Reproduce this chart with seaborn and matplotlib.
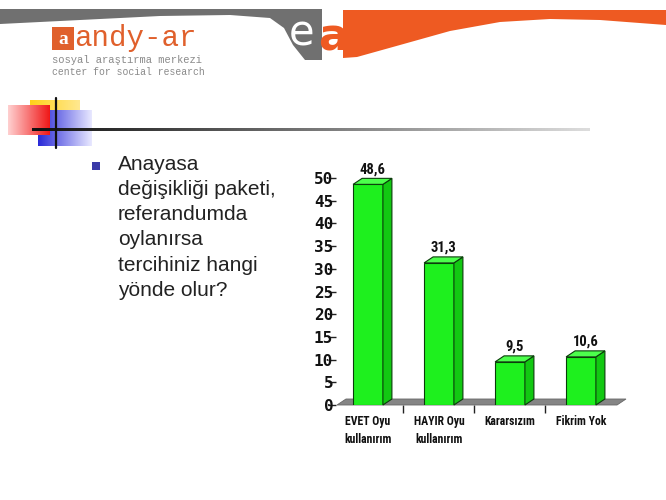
import numpy as np
import pandas as pd
import matplotlib
matplotlib.use("Agg")
import matplotlib.pyplot as plt
import seaborn as sns
from matplotlib.patches import Polygon, Rectangle
from matplotlib import font_manager

# ---------------- data ----------------
categories = ["EVET Oyu\nkullanırım", "HAYIR Oyu\nkullanırım", "Kararsızım", "Fikrim Yok"]
values = [48.6, 31.3, 9.5, 10.6]
value_labels = ["48,6", "31,3", "9,5", "10,6"]
y_ticks = [0, 5, 10, 15, 20, 25, 30, 35, 40, 45, 50]
question = "Anayasa\ndeğişikliği paketi,\nreferandumda\noylanırsa\ntercihiniz hangi\nyönde olur?"
logo_name = "andy-ar"
logo_sub1 = "sosyal araştırma merkezi"
logo_sub2 = "center for social research"

sns.set_theme(style="white")
plt.rcParams['font.family'] = ['Liberation Sans', 'DejaVu Sans']

avail = {f.name for f in font_manager.fontManager.ttflist}
narrow = next((f for f in ['Liberation Sans Narrow', 'Roboto Condensed', 'DejaVu Sans Condensed',
                           'Open Sans Condensed', 'Liberation Sans'] if f in avail), 'DejaVu Sans')

W, H = 666, 500
fig = plt.figure(figsize=(6.66, 5.0), dpi=100)
fig.patch.set_facecolor('white')

# background drawing axes in pixel coordinates
bg = fig.add_axes([0, 0, 1, 1])
bg.set_xlim(0, W)
bg.set_ylim(H, 0)
bg.axis('off')

def grad_rect(ax, x0, x1, y0, y1, c_from, c_to, horizontal=True, z=1):
    n = 64
    t = np.linspace(0, 1, n)
    cf = np.array(matplotlib.colors.to_rgba(c_from))
    ct = np.array(matplotlib.colors.to_rgba(c_to))
    cols = cf[None, :] * (1 - t[:, None]) + ct[None, :] * t[:, None]
    img = cols[None, :, :] if horizontal else cols[:, None, :]
    ax.imshow(img, extent=(x0, x1, y1, y0), aspect='auto', zorder=z, interpolation='bilinear')

# header grey band
grey_pts = [(0, 9), (322, 9), (322, 60), (305, 60), (293, 45), (284, 28), (270, 18),
            (230, 15), (160, 16), (80, 20), (0, 24)]
bg.add_patch(Polygon(grey_pts, closed=True, facecolor='#707070', edgecolor='none', zorder=2))
# orange band
orange_pts = [(343, 10), (666, 10), (666, 25), (600, 20), (550, 19), (500, 22), (450, 31),
              (400, 45), (357, 57), (343, 58)]
bg.add_patch(Polygon(orange_pts, closed=True, facecolor='#ee5a22', edgecolor='none', zorder=3))
bg.text(302, 34, "e", color='white', fontsize=30, ha='center', va='center',
        family=['DejaVu Sans'], zorder=4)
bg.text(333, 38, "a", color='#ee5a22', fontsize=32, fontweight='bold', ha='center', va='center',
        family=['DejaVu Sans'], zorder=4)

# logo
bg.add_patch(Rectangle((52, 27), 22, 23, facecolor='#e0602c', edgecolor='none', zorder=3))
bg.text(63, 39, "a", color='white', fontsize=14, fontweight='bold', ha='center', va='center',
        family=['Liberation Serif', 'DejaVu Serif'], zorder=4)
bg.text(74, 46, logo_name, color='#e0602c', fontsize=21, ha='left', va='baseline',
        family=['Liberation Mono', 'DejaVu Sans Mono'], zorder=4)
bg.text(52, 63, logo_sub1, color='#8a8a8a', fontsize=7.6, ha='left', va='baseline',
        family=['Liberation Mono', 'DejaVu Sans Mono'], zorder=4)
bg.text(52, 75, logo_sub2, color='#8a8a8a', fontsize=7.0, ha='left', va='baseline',
        family=['Liberation Mono', 'DejaVu Sans Mono'], zorder=4)

# decorative squares
grad_rect(bg, 30, 80, 100, 118, '#ffd21a', '#ffe890', z=2)
grad_rect(bg, 38, 92, 110, 146, '#2a2ad8', '#e8e8ff', z=3)
grad_rect(bg, 8, 50, 105, 135, '#ffd0d0', '#f01818', z=4)
bg.plot([56, 56], [98, 148], color='#111111', lw=1.6, zorder=6)
grad_rect(bg, 32, 590, 128.8, 131.4, '#111111', '#dcdcdc', z=5)

# question text with bullet
bg.add_patch(Rectangle((92, 162), 8, 8, facecolor='#3a3aa8', edgecolor='none', zorder=4))
bg.text(118, 155, question, ha='left', va='top', fontsize=15.0, color='#222222',
        linespacing=1.41, zorder=4)

# ---------------- chart ----------------
px_per_cat = 71.0
px_per_unit = 4.54
cat0_px = 368.0
left_px, right_px = 336.0, 625.0
base_px = 405.0
ymax = 52.0
xlim = ((left_px - cat0_px) / px_per_cat, (right_px - cat0_px) / px_per_cat)

ax = fig.add_axes([left_px / W, (H - base_px) / H, (right_px - left_px) / W,
                   ymax * px_per_unit / H])
ax.set_facecolor('none')

df = pd.DataFrame({"cat": categories, "val": values})
sns.barplot(data=df, x="cat", y="val", ax=ax, width=0.42, color='#1ef01e', saturation=1,
            edgecolor='#0b3d0b', linewidth=0.8, zorder=3)
ax.set_xlim(*xlim)
ax.set_ylim(0, ymax)

dxd = 9.0 / px_per_cat
dyd = 6.0 / px_per_unit

# floor
fx0 = (337 - cat0_px) / px_per_cat
fx1 = (617 - cat0_px) / px_per_cat
floor = [(fx0, 0), (fx1, 0), (fx1 + dxd, dyd), (fx0 + dxd, dyd)]
ax.add_patch(Polygon(floor, closed=True, facecolor='#858585', edgecolor='#666666',
                     lw=0.6, zorder=1, clip_on=False))

for p, lab in zip(ax.patches[:len(values)], value_labels):
    x = p.get_x()
    w = p.get_width()
    h = p.get_height()
    side = [(x + w, 0), (x + w + dxd, dyd), (x + w + dxd, h + dyd), (x + w, h)]
    top = [(x, h), (x + w, h), (x + w + dxd, h + dyd), (x + dxd, h + dyd)]
    ax.add_patch(Polygon(side, closed=True, facecolor='#12c812', edgecolor='#0b3d0b',
                         lw=0.8, zorder=3, clip_on=False))
    ax.add_patch(Polygon(top, closed=True, facecolor='#4cff4c', edgecolor='#0b3d0b',
                         lw=0.8, zorder=3, clip_on=False))
    ax.annotate(lab, (x + (w + dxd) / 2, h + dyd), xytext=(0, 1.5), textcoords='offset points',
                ha='center', va='bottom', fontsize=10.5, fontweight='bold', color='#111111',
                family=[narrow, 'DejaVu Sans'], annotation_clip=False)

for s in ax.spines.values():
    s.set_visible(False)
ax.set_xlabel("")
ax.set_ylabel("")
ax.set_yticks(y_ticks)
ax.set_yticklabels([str(t) for t in y_ticks], fontsize=11.5, fontweight='bold',
                   family=['DejaVu Sans Mono'], color='#111111')
ax.tick_params(axis='y', which='major', left=True, length=6, width=1, color='#222222', pad=-4)
ax.set_xticks(range(len(categories)))
ax.set_xticklabels(categories, fontsize=8.5, fontweight='bold', family=[narrow, 'DejaVu Sans'],
                   color='#111111', linespacing=1.55)
ax.tick_params(axis='x', which='major', bottom=False, length=0, pad=7)
ax.set_xticks([0.5, 1.5, 2.5], minor=True)
ax.tick_params(axis='x', which='minor', bottom=True, length=6, width=1, color='#222222',
               direction='out')
ax.grid(False)

fig.savefig("out.png", dpi=100, facecolor='white')
